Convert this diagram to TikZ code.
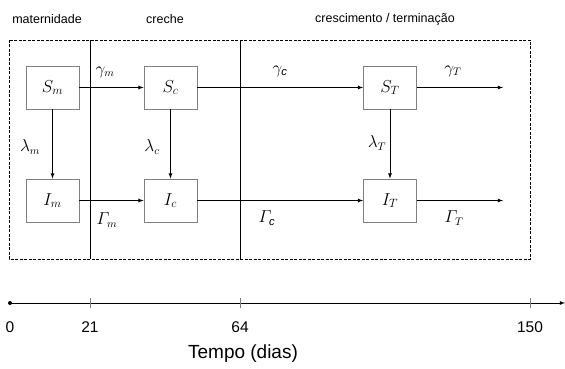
\documentclass[tikz,border=0pt]{standalone}
\usepackage{amsmath}
\usepackage{fontspec}
\setmainfont{Liberation Sans}

\tikzset{
  comp/.style={draw=gray, line width=0.8pt, minimum width=53pt, minimum height=43pt, inner sep=0pt, font=\fontsize{17.5}{20}\selectfont},
  rate/.style={font=\fontsize{16}{18}\selectfont},
  stage/.style={font=\fontsize{12.5}{14}\selectfont},
  tick/.style={font=\fontsize{15.5}{18}\selectfont}
}

\begin{document}
\begin{tikzpicture}[x=1pt, y=-1pt, line width=0.8pt]
\useasboundingbox (0,0) rectangle (565,369);

% Draw stage names
\node[stage] (mat) at (47,19) {maternidade};
\node[stage] (cre) at (165,19) {creche};
\node[stage] (ter) at (385,19) {crescimento / terminação};

% Draw frame and stage borders
\draw[dash pattern=on 3pt off 1.5pt, line width=0.6pt] (9,40) rectangle (530,259);
\draw (90,40) -- (90,259);
\draw (240,40) -- (240,259);

% Draw compartments
\node[comp] (Sm) at (52.5,87.5) {$S_m$};
\node[comp] (Im) at (52.5,200.5) {$I_m$};
\node[comp] (Sc) at (170.5,87.5) {$S_c$};
\node[comp] (Ic) at (170.5,200.5) {$I_c$};
\node[comp] (ST) at (390,87.5) {$S_T$};
\node[comp] (IT) at (390,200.5) {$I_T$};
\coordinate (outS) at (503,87.5);
\coordinate (outI) at (503,200.5);

% Draw flows between compartments
\draw[-latex] (Sm) -- (Sc);
\draw[-latex] (Sc) -- (ST);
\draw[-latex] (ST) -- (outS);
\draw[-latex] (Im) -- (Ic);
\draw[-latex] (Ic) -- (IT);
\draw[-latex] (IT) -- (outI);
\draw[-latex] (Sm) -- (Im);
\draw[-latex] (Sc) -- (Ic);
\draw[-latex] (ST) -- (IT);

% Draw rates
\node[rate] (gm) at (105,72) {$\gamma_m$};
\node[rate] (gc) at (280,71) {$\gamma_{\textit{c}}$};
\node[rate] (gT) at (453,71) {$\gamma_T$};
\node[rate] (lm) at (30,147) {$\lambda_m$};
\node[rate] (lc) at (152,147) {$\lambda_c$};
\node[rate] (lT) at (377,143) {$\lambda_T$};
\node[rate] (Gm) at (107,220) {$\varGamma_m$};
\node[rate] (Gc) at (267,218) {$\varGamma_{\textit{c}}$};
\node[rate] (GT) at (454,218) {$\varGamma_T$};

% Draw time axis
\coordinate (t0) at (10,303);
\coordinate (tend) at (565,303);
\draw[-latex] (t0) -- (tend);
\fill (t0) circle (2pt);
\draw[gray, line width=0.5pt] (90,298) -- (90,308);
\draw[gray, line width=0.5pt] (240,298) -- (240,308);
\draw[gray, line width=0.5pt] (530,298) -- (530,308);
\node[tick] (d0) at (10,327) {0};
\node[tick] (d21) at (90,327) {21};
\node[tick] (d64) at (240,327) {64};
\node[tick] (d150) at (530,327) {150};
\node[font=\fontsize{19}{22}\selectfont] (tempo) at (243,354) {Tempo (dias)};

\end{tikzpicture}
\end{document}
